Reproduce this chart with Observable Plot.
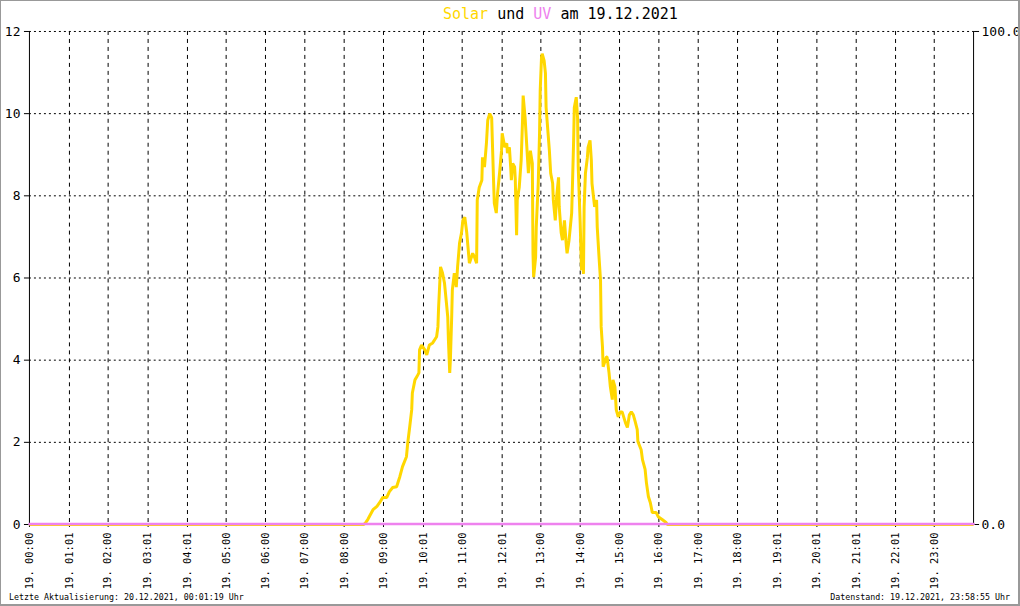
<!DOCTYPE html>
<html>
<head>
<meta charset="utf-8">
<script src="https://cdn.jsdelivr.net/npm/d3@7"></script>
<script src="https://cdn.jsdelivr.net/npm/@observablehq/plot@0.6"></script>
<style>
  html, body { margin: 0; padding: 0; background: #fff; }
  #frame { position: relative; width: 1020px; height: 606px; box-sizing: border-box;
           border-style: solid; border-color: #999; border-width: 1px 2px 2px 1px; overflow: hidden; background: #fff; }
  #title { position: absolute; left: 442px; top: 3px; font: 15px "DejaVu Sans Mono", monospace; line-height: 20px; white-space: pre; color: #000; }
  #chart { position: absolute; left: -1px; top: 22px; }
  .foot { position: absolute; top: 591px; font: 8.3px "DejaVu Sans Mono", monospace; line-height: 10px; white-space: pre; color: #000; }
</style>
</head>
<body>
<div id="frame">
  <div id="title"><span style="color:#FFD700">Solar</span> und <span style="color:#EE82EE">UV</span> am 19.12.2021</div>
  <div id="chart"></div>
  <div class="foot" style="left:8px">Letzte Aktualisierung: 20.12.2021, 00:01:19 Uhr</div>
  <div class="foot" style="right:8px">Datenstand: 19.12.2021, 23:58:55 Uhr</div>
</div>
<script>
// time in minutes after midnight, solar values (left axis)
const solarMinute = [0,510,513,516,524,530,534,539,545,549,554,560,565,569,575,577,580,583,584,588,591,594,595,598,603,606,610,615,621,623,624,627,630,633,636,638,639,641,642,644,645,648,651,653,656,659,661,664,667,671,676,679,682,683,686,690,691,694,697,699,702,705,706,708,709,712,714,717,720,721,725,728,729,732,734,735,737,740,741,743,744,747,750,752,753,756,758,761,764,767,768,769,772,773,776,778,779,781,782,785,787,788,791,793,795,798,799,802,804,807,808,811,813,816,819,820,823,827,828,830,831,834,836,837,840,842,843,845,846,848,851,852,855,857,858,862,865,866,869,871,872,874,875,880,881,884,886,889,890,893,895,898,901,904,909,912,915,918,921,924,927,928,933,935,939,941,944,947,950,956,959,965,971,973,1440];
const solarValue  = [0,0,0.05,0.12,0.36,0.44,0.53,0.66,0.66,0.8,0.9,0.92,1.17,1.41,1.65,1.99,2.38,2.79,3.2,3.52,3.6,3.69,4.25,4.37,4.25,4.13,4.37,4.42,4.57,4.81,5.27,6.27,6.12,5.88,5.39,5.05,4.49,3.69,4.0,5.05,5.71,6.12,5.78,6.27,6.85,7.1,7.4,7.48,7.1,6.36,6.6,6.5,6.36,7.9,8.2,8.38,8.94,8.7,9.28,9.84,10.0,9.9,9.35,8.3,7.82,7.58,8.06,8.55,9.1,9.52,9.18,9.28,9.04,9.18,8.7,8.38,8.79,8.7,8.4,7.04,7.9,8.2,8.87,9.8,10.44,9.9,9.35,8.55,9.1,8.79,6.6,6.02,6.5,7.24,8.3,9.52,10.56,11.37,11.46,11.29,10.98,10.15,9.52,9.1,8.55,8.3,7.9,7.4,7.97,8.45,7.73,7.1,6.92,7.4,6.75,6.6,6.92,7.58,8.14,9.35,10.15,10.4,9.9,8.7,7.33,6.19,6.75,6.1,7.73,8.55,8.94,9.18,9.35,8.87,8.3,7.73,7.9,7.24,6.44,5.95,4.81,4.32,3.84,4.08,4.08,3.69,3.35,3.04,3.52,3.35,2.79,2.62,2.74,2.74,2.48,2.36,2.67,2.74,2.67,2.5,2.31,2.02,1.82,1.58,1.34,1.02,0.68,0.53,0.29,0.29,0.19,0.12,0.05,0,0];
// UV values (right axis, 0..100)
const uvMinute = [0, 1440];
const uvValue  = [0.0, 0.0];
// axis ticks
const xTickLabels = ["19. 00:00","19. 01:01","19. 02:00","19. 03:01","19. 04:01","19. 05:00","19. 06:00","19. 07:00","19. 08:00","19. 09:00","19. 10:01","19. 11:00","19. 12:01","19. 13:00","19. 14:00","19. 15:00","19. 16:00","19. 17:00","19. 18:00","19. 19:01","19. 20:01","19. 21:01","19. 22:01","19. 23:00"];
const yLeftTicks = [0, 2, 4, 6, 8, 10, 12];
const yRightTickValues = [0, 100];
const yRightTickLabels = ["0.0", "100.0"];

const leftMax = 12, rightMax = 100;
const toLeft = v => v * leftMax / rightMax;

const tickMinutes = xTickLabels.map(s => { const t = s.split(" ").pop().split(":"); return +t[0] * 60 + +t[1]; });
const labelOf = new Map(tickMinutes.map((m, i) => [m, xTickLabels[i]]));
const rightTickPos = yRightTickValues.map(toLeft);
const rightLabelOf = new Map(rightTickPos.map((p, i) => [p, yRightTickLabels[i]]));

const solar = solarMinute.map((m, i) => ({m, v: solarValue[i]}));
const uv = uvMinute.map((m, i) => ({m, v: toLeft(uvValue[i])}));

const chart = Plot.plot({
  width: 1020, height: 583,
  marginLeft: 29, marginRight: 45, marginTop: 8, marginBottom: 81,
  style: {background: "transparent", fontFamily: "'DejaVu Sans Mono', monospace", fontSize: "12px", color: "#000", overflow: "visible"},
  x: {domain: [0, 1440]},
  y: {domain: [0, leftMax]},
  marks: [
    Plot.ruleY(yLeftTicks.filter(d => d > 0), {stroke: "#000", strokeWidth: 1, strokeDasharray: "2,3"}),
    Plot.ruleX(tickMinutes.filter(d => d > 0), {stroke: "#000", strokeWidth: 1, strokeDasharray: "4,4"}),
    Plot.ruleX([0, 1440], {stroke: "#000", strokeWidth: 1}),
    Plot.axisY({anchor: "left", ticks: yLeftTicks, tickSize: 5, tickPadding: 4, fontSize: 13, label: null}),
    Plot.axisY({anchor: "right", ticks: rightTickPos, tickFormat: d => rightLabelOf.get(d), tickSize: 5, tickPadding: 3, fontSize: 13, label: null}),
    Plot.axisX({ticks: tickMinutes, tickFormat: d => labelOf.get(d), tickRotate: -90, tickSize: 3, tickPadding: 5, fontSize: 10.5, label: null}),
    Plot.line(solar, {x: "m", y: "v", stroke: "#FFD700", strokeWidth: 3, strokeLinejoin: "miter", strokeLinecap: "butt"}),
    Plot.line(uv, {x: "m", y: "v", stroke: "#EE82EE", strokeWidth: 2.5, dy: -0.5})
  ]
});
document.getElementById("chart").appendChild(chart);
</script>
</body>
</html>
